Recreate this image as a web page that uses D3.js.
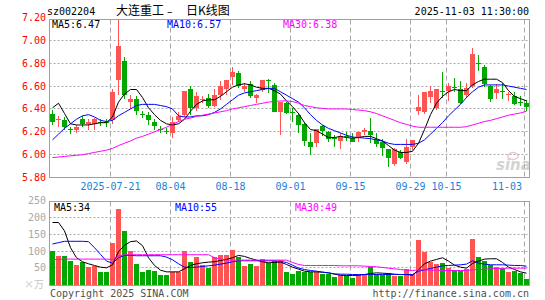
<!DOCTYPE html>
<html>
<head>
<meta charset="utf-8">
<script src="https://cdn.jsdelivr.net/npm/d3@7"></script>
<style>
  body { margin: 0; background: #fff; }
  text { font-family: "DejaVu Sans Mono", monospace; font-size: 10px; }
</style>
</head>
<body>
<script>
// trading days on the chart
const dates = [
  "2025-07-07","2025-07-08","2025-07-09","2025-07-10","2025-07-11","2025-07-14","2025-07-15","2025-07-16","2025-07-17","2025-07-18",
  "2025-07-21","2025-07-22","2025-07-23","2025-07-24","2025-07-25","2025-07-28","2025-07-29","2025-07-30","2025-07-31","2025-08-01",
  "2025-08-04","2025-08-05","2025-08-06","2025-08-07","2025-08-08","2025-08-11","2025-08-12","2025-08-13","2025-08-14","2025-08-15",
  "2025-08-18","2025-08-19","2025-08-20","2025-08-21","2025-08-22","2025-08-25","2025-08-26","2025-08-27","2025-08-28","2025-08-29",
  "2025-09-01","2025-09-02","2025-09-03","2025-09-04","2025-09-05","2025-09-08","2025-09-09","2025-09-10","2025-09-11","2025-09-12",
  "2025-09-15","2025-09-16","2025-09-17","2025-09-18","2025-09-19","2025-09-22","2025-09-23","2025-09-24","2025-09-25","2025-09-26",
  "2025-09-29","2025-09-30","2025-10-09","2025-10-10","2025-10-13","2025-10-14","2025-10-15","2025-10-16","2025-10-17","2025-10-20",
  "2025-10-21","2025-10-22","2025-10-23","2025-10-24","2025-10-27","2025-10-28","2025-10-29","2025-10-30","2025-10-31","2025-11-03"
];

// daily prices
const open = [
  6.355,6.30,6.30,6.225,6.22,6.31,6.27,6.27,6.29,6.29,
  6.30,6.65,6.82,6.46,6.49,6.36,6.35,6.29,6.225,6.21,
  6.19,6.305,6.35,6.57,6.41,6.48,6.50,6.43,6.52,6.57,
  6.68,6.71,6.57,6.62,6.495,6.568,6.65,6.61,6.372,6.45,
  6.37,6.35,6.27,6.11,6.10,6.25,6.20,6.147,6.12,6.16,
  6.15,6.15,6.197,6.203,6.13,6.115,6.05,5.92,6.02,5.94,
  6.07,6.385,6.37,6.507,6.41,6.56,6.557,6.59,6.575,6.52,
  6.60,6.80,6.77,6.60,6.535,6.556,6.525,6.515,6.465,6.45
];
const high = [
  6.39,6.34,6.33,6.245,6.26,6.34,6.31,6.32,6.31,6.31,
  6.57,7.20,6.85,6.52,6.51,6.38,6.37,6.31,6.25,6.23,
  6.33,6.37,6.56,6.60,6.55,6.51,6.53,6.57,6.64,6.655,
  6.77,6.73,6.625,6.64,6.53,6.655,6.665,6.625,6.46,6.46,
  6.41,6.363,6.29,6.188,6.226,6.26,6.203,6.17,6.19,6.197,
  6.19,6.20,6.23,6.325,6.19,6.14,6.05,6.06,6.04,6.14,
  6.13,6.525,6.547,6.60,6.57,6.727,6.625,6.67,6.64,6.63,
  6.933,6.875,6.786,6.61,6.62,6.63,6.545,6.55,6.51,6.48
];
const low = [
  6.26,6.24,6.22,6.18,6.19,6.24,6.22,6.22,6.25,6.24,
  6.27,6.52,6.49,6.40,6.35,6.32,6.26,6.22,6.19,6.18,
  6.145,6.29,6.33,6.35,6.38,6.45,6.41,6.42,6.48,6.52,
  6.61,6.58,6.55,6.495,6.45,6.55,6.54,6.37,6.174,6.355,
  6.29,6.188,6.08,6.00,6.07,6.16,6.11,6.07,6.05,6.12,
  6.11,6.11,6.17,6.10,6.07,5.99,5.89,5.90,5.965,5.92,
  6.04,6.35,6.36,6.45,6.395,6.50,6.47,6.55,6.44,6.50,
  6.58,6.73,6.595,6.463,6.49,6.49,6.47,6.435,6.425,6.385
];
const close = [
  6.29,6.31,6.24,6.22,6.24,6.27,6.29,6.31,6.285,6.28,
  6.55,6.95,6.52,6.49,6.38,6.35,6.30,6.25,6.22,6.20,
  6.29,6.34,6.56,6.41,6.51,6.49,6.43,6.52,6.60,6.65,
  6.725,6.60,6.60,6.51,6.524,6.655,6.645,6.372,6.46,6.363,
  6.365,6.26,6.12,6.07,6.226,6.21,6.14,6.145,6.16,6.155,
  6.115,6.197,6.218,6.168,6.09,6.06,5.97,6.05,5.97,6.07,
  6.13,6.42,6.545,6.555,6.57,6.555,6.60,6.587,6.45,6.585,
  6.883,6.795,6.62,6.485,6.575,6.55,6.53,6.44,6.46,6.415
];

// volume, in 10k lots
const volume = [
  100,86,86,69,57,66,51,56,39,37,
  123,226,161,100,62,39,44,40,28,29,
  39,39,100,66,82,57,50,82,88,89,
  102,82,55,60,54,77,64,71,74,39,
  33,42,38,38,38,33,32,22,29,26,
  21,30,28,52,31,30,36,26,27,45,
  31,132,96,68,60,65,49,44,42,45,
  135,81,71,57,51,50,37,42,34,17
];

// moving averages
const ma5 = [
  6.41,6.45,6.36,6.27,6.26,6.26,6.26,6.27,6.28,6.28,
  6.33,6.46,6.53,6.57,6.57,6.50,6.41,6.35,6.30,6.27,
  6.26,6.27,6.31,6.38,6.44,6.47,6.48,6.48,6.51,6.55,
  6.59,6.61,6.62,6.61,6.59,6.58,6.58,6.56,6.53,6.47,
  6.42,6.36,6.28,6.22,6.21,6.18,6.15,6.15,6.16,6.15,
  6.145,6.15,6.16,6.16,6.14,6.12,6.08,6.04,6.02,6.02,
  6.03,6.10,6.22,6.35,6.45,6.51,6.55,6.57,6.56,6.56,
  6.61,6.64,6.66,6.66,6.66,6.63,6.56,6.51,6.49,6.47
];
const ma10 = [
  6.13,6.18,6.23,6.27,6.31,6.34,6.35,6.33,6.30,6.29,
  6.30,6.34,6.37,6.40,6.43,6.44,6.44,6.44,6.43,6.42,
  6.40,6.34,6.33,6.33,6.34,6.34,6.35,6.37,6.40,6.44,
  6.48,6.52,6.54,6.55,6.56,6.57,6.58,6.58,6.55,6.52,
  6.49,6.46,6.41,6.35,6.30,6.26,6.23,6.21,6.19,6.17,
  6.155,6.15,6.145,6.14,6.13,6.12,6.10,6.09,6.09,6.09,
  6.09,6.10,6.13,6.18,6.23,6.28,6.34,6.39,6.44,6.50,
  6.55,6.59,6.61,6.61,6.61,6.61,6.60,6.59,6.58,6.57
];
const ma30 = [
  5.975,5.98,5.985,5.99,5.995,6.00,6.01,6.02,6.03,6.04,
  6.055,6.08,6.10,6.12,6.145,6.16,6.18,6.20,6.22,6.24,
  6.265,6.29,6.31,6.32,6.335,6.345,6.355,6.365,6.375,6.385,
  6.40,6.41,6.42,6.43,6.44,6.45,6.46,6.465,6.47,6.47,
  6.465,6.45,6.43,6.42,6.41,6.405,6.40,6.40,6.40,6.40,
  6.395,6.39,6.385,6.375,6.36,6.34,6.32,6.30,6.28,6.265,
  6.25,6.24,6.24,6.24,6.24,6.24,6.24,6.24,6.24,6.245,
  6.26,6.275,6.29,6.30,6.315,6.33,6.345,6.355,6.365,6.38
];

// moving averages
const volMa5 = [
  185,185,160,110,80,68,62,57,52,50,
  59,98,117,128,130,116,80,57,43,38,
  38,38,47,57,62,65,67,68,72,75,
  80,87,84,78,73,68,65,66,67,60,
  52,46,40,38,38,37,35,31,28,27,
  27,28,30,33,35,34,33,31,30,30,
  28,44,62,70,75,80,70,58,52,49,
  63,70,76,77,77,66,52,45,38,34
];
const volMa10 = [
  121,125,129,129,129,129,128,110,90,70,
  64,80,87,87,86,86,86,86,86,82,
  74,62,52,51,52,54,56,58,61,64,
  68,71,71,71,71,71,71,71,69,66,
  58,49,45,42,40,37,35,32,31,31,
  30,30,30,30,30,30,30,30,30,30,
  30,40,44,48,52,56,57,58,59,61,
  71,64,61,59,59,59,58,57,57,55
];
const volMa30 = [
  74,75,76,76,76,76,76,76,76,76,
  75,85,89,89,89,89,89,89,89,89,
  89,89,89,89,89,89,89,80,76,73,
  73,73,73,73,73,73,73,73,73,73,
  66,60,57,57,57,57,57,57,56,56,
  56,56,55,54,53,51,49,47,45,43,
  42,44,44,43,43,42,42,42,42,42,
  44,45,46,47,48,48,49,49,49,49
];

// axis ticks and labels
const priceTicks = [5.8, 6.0, 6.2, 6.4, 6.6, 6.8, 7.0, 7.2];
const volTicks = [50, 100, 150, 200, 250];
const dateTicks = ["2025-07-21","2025-08-04","2025-08-18","2025-09-01","2025-09-15","2025-09-29","2025-10-15","2025-11-03"];
const dateLabels = ["2025-07-21","08-04","08-18","09-01","09-15","09-29","10-15","11-03"];
const priceLegend = ["MA5:6.47", "MA10:6.57", "MA30:6.38"];
const volLegend = ["MA5:34", "MA10:55", "MA30:49"];

const width = 545;
const height = 300;
const left = 49.5, right = 529.5;
const price = { top: 19.5, bottom: 177.5 };
const vol = { top: 201.5, bottom: 285.5 };
const lineColors = ["#000000", "#0000ff", "#ff00ff"];
const up = "#ff5454", down = "#00a800";
const gridColor = "#a8a8a8";

const svg = d3.select("body")
  .append("svg")
  .attr("width", width)
  .attr("height", height)
  .style("display", "block")
  .style("background", "#fff");

// scales
const x = d3.scaleBand()
  .domain(dates)
  .range([50, 529])
  .paddingInner(1 / 6)
  .paddingOuter(0);
const yPrice = d3.scaleLinear().domain([5.8, 7.2]).range([177.6, 17.4]);
const yVol = d3.scaleLinear().domain([0, 250]).range([284.6, 200.7]);
const cx = d => x(d) + 2.5;
const snap = v => Math.round(v - 0.5) + 0.5;

// title line
const cjk = "'Noto Sans CJK SC'";
svg.append("text").attr("x", 47).attr("y", 14.5).text("sz002204");
svg.append("text").attr("x", 116).attr("y", 15)
  .style("font-family", cjk).style("font-size", "12px")
  .text("大连重工");
svg.append("text").attr("x", 167).attr("y", 14.5)
  .style("font-family", "'DejaVu Sans'").style("font-size", "11px")
  .text("–");
svg.append("text").attr("x", 186).attr("y", 15)
  .style("font-family", cjk).style("font-size", "12px")
  .text("日K线图");
svg.append("text").attr("x", 529).attr("y", 15).attr("text-anchor", "end")
  .text("2025-11-03 11:30:00");

// clip both panels
const defs = svg.append("defs");
defs.append("clipPath").attr("id", "clipPrice")
  .append("rect").attr("x", left).attr("y", price.top)
  .attr("width", right - left).attr("height", price.bottom - price.top);
defs.append("clipPath").attr("id", "clipVol")
  .append("rect").attr("x", left).attr("y", vol.top)
  .attr("width", right - left).attr("height", vol.bottom - vol.top);

// gridlines
function grid(g, ticks, scale, top, bottom) {
  g.selectAll(".h")
    .data(ticks.filter(t => snap(scale(t)) > top + 1 && snap(scale(t)) < bottom - 1))
    .join("line")
    .attr("x1", left).attr("x2", right)
    .attr("y1", d => snap(scale(d))).attr("y2", d => snap(scale(d)))
    .attr("stroke", gridColor).attr("stroke-dasharray", "2,2");
  g.selectAll(".v")
    .data(dateTicks)
    .join("line")
    .attr("x1", d => x(d) + 0.5).attr("x2", d => x(d) + 0.5)
    .attr("y1", top).attr("y2", bottom)
    .attr("stroke", gridColor).attr("stroke-dasharray", "5,3");
}
grid(svg.append("g"), priceTicks, yPrice, price.top, price.bottom);
grid(svg.append("g"), volTicks, yVol, vol.top, vol.bottom);

// panel borders
[price, vol].forEach(p => {
  svg.append("rect")
    .attr("x", left).attr("y", p.top)
    .attr("width", right - left).attr("height", p.bottom - p.top)
    .attr("fill", "none").attr("stroke", "#a0a0a0");
});

// watermark
const mark = svg.append("g").attr("opacity", 0.55);
mark.append("ellipse").attr("cx", 513).attr("cy", 156).attr("rx", 5).attr("ry", 3.5)
  .attr("fill", "none").attr("stroke", "#e0a0a0").attr("stroke-width", 1.5);
mark.append("text").attr("x", 496).attr("y", 170)
  .style("font-family", "'DejaVu Sans'").style("font-size", "15px")
  .style("font-weight", "bold").style("font-style", "italic")
  .attr("fill", "#b0b0b0").text("sina");

// candles
const rows = dates.map((d, i) => ({ d, o: open[i], h: high[i], l: low[i], c: close[i], v: volume[i] }));
const colorOf = r => r.c >= r.o ? up : down;

const candles = svg.append("g").attr("clip-path", "url(#clipPrice)")
  .attr("shape-rendering", "crispEdges");
candles.selectAll("line")
  .data(rows)
  .join("line")
  .attr("x1", r => cx(r.d)).attr("x2", r => cx(r.d))
  .attr("y1", r => yPrice(r.h)).attr("y2", r => yPrice(r.l))
  .attr("stroke", colorOf);
candles.selectAll("rect")
  .data(rows)
  .join("rect")
  .attr("x", r => x(r.d))
  .attr("width", x.bandwidth())
  .attr("y", r => yPrice(Math.max(r.o, r.c)))
  .attr("height", r => Math.max(1, Math.abs(yPrice(r.o) - yPrice(r.c))))
  .attr("fill", colorOf);

// volume bars
svg.append("g").attr("shape-rendering", "crispEdges")
  .selectAll("rect")
  .data(rows)
  .join("rect")
  .attr("x", r => x(r.d))
  .attr("width", x.bandwidth())
  .attr("y", r => yVol(r.v))
  .attr("height", r => vol.bottom - 0.5 - yVol(r.v))
  .attr("fill", colorOf);

// moving average lines: MA5 black, MA10 blue, MA30 magenta
function maLines(series, scale, clip) {
  const line = d3.line()
    .x((d, i) => cx(dates[i]))
    .y(d => scale(d));
  const g = svg.append("g").attr("clip-path", clip);
  series.forEach((s, k) => {
    g.append("path")
      .datum(s)
      .attr("fill", "none")
      .attr("stroke", lineColors[k])
      .attr("stroke-width", 1)
      .attr("d", line);
  });
}
maLines([ma5, ma10, ma30], yPrice, "url(#clipPrice)");
maLines([volMa5, volMa10, volMa30], yVol, "url(#clipVol)");

// legends
const priceLegendX = [52, 167, 283];
const volLegendX = [54, 175, 295];
svg.append("g").selectAll("text")
  .data(priceLegend)
  .join("text")
  .attr("x", (d, i) => priceLegendX[i]).attr("y", 27.5)
  .attr("fill", (d, i) => lineColors[i])
  .text(d => d);
svg.append("g").selectAll("text")
  .data(volLegend)
  .join("text")
  .attr("x", (d, i) => volLegendX[i]).attr("y", 210.5)
  .attr("fill", (d, i) => lineColors[i])
  .text(d => d);

// price axis labels
svg.append("g").selectAll("text")
  .data(priceTicks)
  .join("text")
  .attr("x", 46).attr("y", d => yPrice(d))
  .attr("dy", "0.35em")
  .attr("text-anchor", "end")
  .attr("fill", "#ff0000")
  .text(d => d.toFixed(2));

// volume axis labels
svg.append("g").selectAll("text")
  .data(volTicks)
  .join("text")
  .attr("x", 46).attr("y", d => yVol(d))
  .attr("dy", "0.35em")
  .attr("text-anchor", "end")
  .attr("fill", "#a8a8a8")
  .text(d => d);
svg.append("text").attr("x", 44).attr("y", 288)
  .attr("text-anchor", "end").attr("fill", "#c8c8c8")
  .style("font-family", cjk).style("font-size", "10px")
  .text("×万");

// date labels
svg.append("g").selectAll("text")
  .data(dateTicks)
  .join("text")
  .attr("x", (d, i) => i === dateTicks.length - 1 ? 522 : x(d) + 0.5)
  .attr("y", 189.5)
  .attr("text-anchor", (d, i) => i === dateTicks.length - 1 ? "end" : "middle")
  .attr("fill", "#1a82d6")
  .text((d, i) => dateLabels[i]);

// footer
svg.append("text").attr("x", 50).attr("y", 296.5).attr("fill", "#505050")
  .text("Copyright 2025 SINA.COM");
svg.append("text").attr("x", 529).attr("y", 296.5).attr("text-anchor", "end")
  .attr("fill", "#505050").text("http://finance.sina.com.cn");
</script>
</body>
</html>
